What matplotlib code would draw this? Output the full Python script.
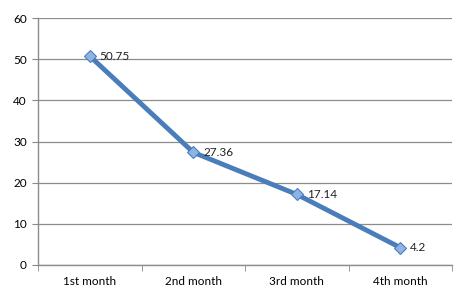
import matplotlib.pyplot as plt
import numpy as np

months = ['1st month', '2nd month', '3rd month', '4th month']
values = [50.75, 27.36, 17.14, 4.2]
labels = ['50.75', '27.36', '17.14', '4.2']

plt.rcParams['font.family'] = ['Lato', 'DejaVu Sans']

fig = plt.figure(figsize=(4.59, 2.97), dpi=100)
ax = fig.add_axes([0.083, 0.108, 0.902, 0.831])

x = np.arange(len(months))
ax.plot(x, values, color='#4a7ebb', lw=3.5, marker='D', ms=6,
        markerfacecolor='#8fb4e3', markeredgecolor='#4a7ebb', markeredgewidth=0.8,
        solid_capstyle='round', zorder=3)
for xi, v, t in zip(x, values, labels):
    ax.annotate(t, (xi, v), xytext=(7, 0), textcoords='offset points',
                va='center', ha='left', fontsize=8.5, color='#222222')

ax.set_xlim(-0.5, len(months) - 0.5)
ax.set_ylim(0, 60)
ax.set_yticks(range(0, 61, 10))
ax.set_xticks(x)
ax.set_xticklabels(months)
ax.set_xticks(np.arange(-0.5, len(months)), minor=True)
ax.tick_params(axis='x', which='major', length=0, pad=8, labelsize=8.5)
ax.tick_params(axis='x', which='minor', length=4, color='#888888', direction='out')
ax.tick_params(axis='y', length=4, color='#888888', labelsize=8.5, pad=4)
ax.grid(axis='y', color='#8c8c8c', lw=0.9)
ax.set_axisbelow(True)
for s in ['top', 'right']:
    ax.spines[s].set_visible(False)
for s in ['left', 'bottom']:
    ax.spines[s].set_color('#8c8c8c')
    ax.spines[s].set_linewidth(1)

fig.savefig('out.png', dpi=100)
